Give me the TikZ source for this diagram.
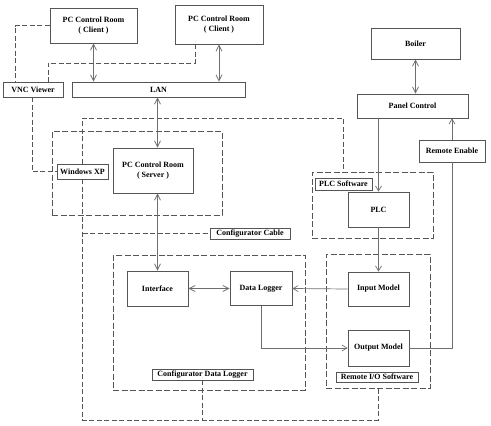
\documentclass[tikz,border=0pt]{standalone}
\usepackage{fontspec}
\setmainfont{Liberation Serif}
\usetikzlibrary{arrows.meta,positioning,calc}
\definecolor{boxcolor}{RGB}{85,85,85}
\definecolor{wirecolor}{RGB}{110,110,110}
\tikzset{
  unit box/.style={
    draw=boxcolor,
    line width=0.9pt,
    fill=white,
    align=center,
    inner sep=1pt,
    font=\fontsize{8}{9.5}\selectfont\bfseries
  },
  tag box/.style={
    unit box,
    line width=0.7pt,
    minimum height=11pt
  },
  zone/.style={
    draw=boxcolor,
    line width=1pt,
    dash pattern=on 6pt off 2.5pt
  },
  link/.style={
    draw=boxcolor,
    line width=0.9pt,
    dash pattern=on 5pt off 2.5pt
  },
  wire/.style={
    draw=wirecolor,
    line width=0.7pt
  },
  arrow/.style={
    wire,
    -{Straight Barb[length=5pt,width=6pt]}
  },
  biarrow/.style={
    wire,
    {Straight Barb[length=6pt,width=6pt]}-{Straight Barb[length=6pt,width=6pt]}
  }
}

\begin{document}
\begin{tikzpicture}[x=1pt,y=-1pt]
  \useasboundingbox (0,0) rectangle (491,426);

  % Dashed software zones
  \node[zone, minimum width=170pt, minimum height=84pt] (serverZone) at (137,173) {};
  \node[zone, minimum width=192pt, minimum height=135pt] (loggerZone) at (209,322.5) {};
  \node[zone, minimum width=121pt, minimum height=66pt] (plcZone) at (372.5,205) {};
  \node[zone, minimum width=104pt, minimum height=134pt] (ioZone) at (378,321) {};

  % Control room clients and LAN
  \node[unit box, minimum width=87pt, minimum height=35pt] (clientA) at (93.5,25.5) {PC Control Room\\( Client )};
  \node[unit box, minimum width=88pt, minimum height=39pt] (clientB) at (219,24.5) {PC Control Room\\( Client )};
  \node[unit box, minimum width=60pt, minimum height=15pt] (vnc) at (33,89.5) {VNC Viewer};
  \node[unit box, minimum width=173pt, minimum height=15pt] (lan) at (158.5,89.5) {LAN};

  % Server side
  \node[unit box, minimum width=51pt, minimum height=15pt] (winxp) at (82.5,171.5) {Windows XP};
  \node[unit box, minimum width=80pt, minimum height=45pt] (server) at (153,170.5) {PC Control Room\\( Server )};
  \node[tag box, minimum width=80pt] (cable) at (250,233.5) {Configurator Cable};

  % Data logger
  \node[unit box, minimum width=61pt, minimum height=35pt] (interface) at (157.5,288.5) {Interface};
  \node[unit box, minimum width=62pt, minimum height=34pt] (logger) at (261,288.5) {Data Logger};
  \node[tag box, minimum width=101pt] (loggerTag) at (202.5,374.5) {Configurator Data Logger};

  % Boiler and PLC
  \node[unit box, minimum width=89pt, minimum height=31pt] (boiler) at (415.5,43.5) {Boiler};
  \node[unit box, minimum width=111pt, minimum height=24pt] (panel) at (412.5,106) {Panel Control};
  \node[unit box, minimum width=66pt, minimum height=22pt] (remote) at (452,151) {Remote Enable};
  \node[unit box, minimum width=61pt, minimum height=35pt] (plc) at (378.5,209.5) {PLC};
  \node[tag box, minimum width=57pt, minimum height=12pt] (plcTag) at (343.5,184) {PLC Software};

  % Remote I/O
  \node[unit box, minimum width=61pt, minimum height=34pt] (input) at (378.5,289) {Input Model};
  \node[unit box, minimum width=61pt, minimum height=36pt] (output) at (378.5,348) {Output Model};
  \node[tag box, minimum width=82pt, minimum height=10pt] (ioTag) at (377,377) {Remote I/O Software};

  % Bend points of the dashed links
  \coordinate (vncTap) at (48,63);
  \coordinate (plcTap) at (343,118);
  \coordinate (cableLow) at (378,420);

  % Dashed links
  \draw[link] (clientA.west) -| ([xshift=-18pt]vnc.north);
  \draw[link] ([xshift=-24pt]clientB.south) |- (vncTap) -- (vncTap |- vnc.north);
  \draw[link] ([xshift=-1pt]vnc.south) |- (winxp.west);
  \draw[link] (winxp.north) |- (plcTap) -- (plcTap |- plcZone.north);
  \draw[link] (winxp.south) |- (cableLow) -- (ioZone.south);
  \draw[link] (winxp.south |- cable.west) -- (cable.west);
  \draw[link] (loggerTag.south) -- (loggerTag.south |- cableLow);

  % Network connections
  \draw[biarrow] (clientA.south) -- (clientA.south |- lan.north);
  \draw[biarrow] (clientB.south) -- (clientB.south |- lan.north);
  \draw[biarrow] (interface |- lan.south) -- (interface |- server.north);
  \draw[biarrow] (interface |- server.south) -- (interface.north);
  \draw[biarrow] (interface.east) -- (logger.west);

  % Plant signals
  \draw[biarrow] (boiler.south) -- (boiler.south |- panel.north);
  \draw[arrow] (plc.north |- panel.south) -- (plc.north);
  \draw[arrow] (remote.north) -- (remote.north |- panel.south);
  \draw[arrow] (plc.south) -- (input.north);
  \draw[arrow] (input.west) -- (logger.east);
  \draw[arrow] (logger.south) |- (output.west);
  \draw[wire] (output.east) -| (remote.south);

\end{tikzpicture}
\end{document}
